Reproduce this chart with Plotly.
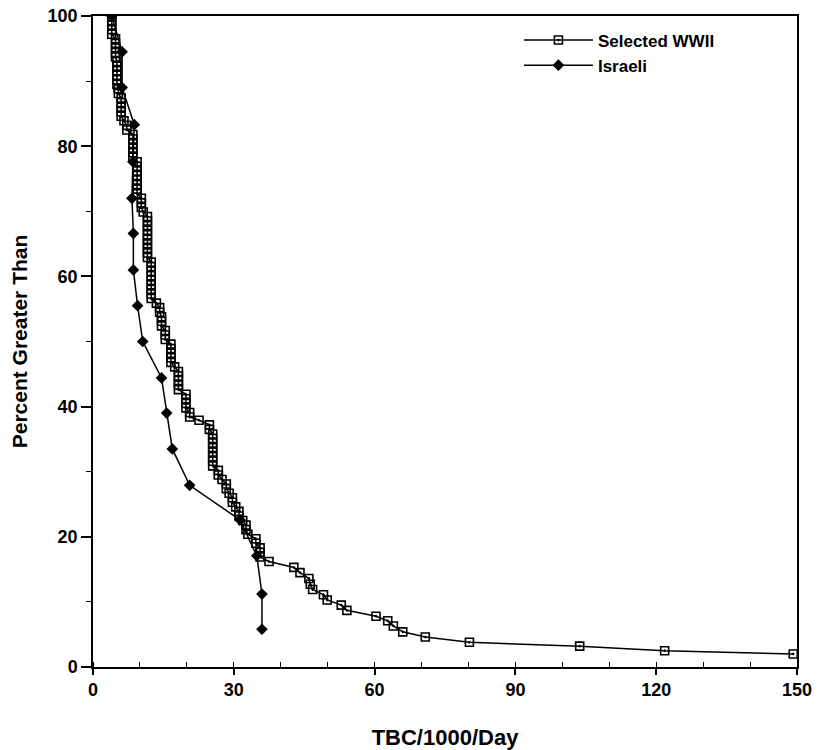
import plotly.graph_objects as go

# Selected WWII data (TBC/1000/Day, Percent Greater Than)
wwii_x = [4.0, 4.0, 4.0, 4.0, 4.0,
          4.8, 4.8, 4.8, 4.8, 4.8,
          5.1, 5.1, 5.1, 5.1, 5.1, 5.1,
          5.4, 5.4,
          6.0, 6.0, 6.0, 6.0, 6.0,
          6.6,
          7.2, 7.2,
          8.5, 8.5, 8.5, 8.5, 8.5, 8.5,
          9.4, 9.4, 9.4, 9.4, 9.4, 9.4, 9.4, 9.4,
          10.3, 10.3, 10.3,
          10.7,
          11.6, 11.6, 11.6, 11.6, 11.6, 11.6, 11.6, 11.6, 11.6, 11.6,
          12.4, 12.4, 12.4, 12.4, 12.4, 12.4, 12.4, 12.4, 12.4,
          13.5,
          14.2, 14.2,
          14.6, 14.6, 14.6,
          15.4, 15.4, 15.4,
          16.6, 16.6, 16.6, 16.6, 16.6,
          17.4,
          18.2, 18.2, 18.2, 18.2, 18.2,
          19.8, 19.8, 19.8, 19.8,
          20.6, 20.6,
          22.6,
          24.8, 24.8,
          25.5, 25.5, 25.5, 25.5, 25.5, 25.5, 25.5, 25.5,
          26.7, 26.7,
          27.5,
          28.4, 28.4,
          29.0,
          29.7, 29.7,
          30.4,
          31.1, 31.1,
          31.9,
          32.6, 32.6,
          33.0,
          34.7, 34.7,
          35.6, 35.6, 35.6,
          37.5,
          42.8, 44.1, 46.0, 46.3, 46.8, 49.1, 49.9, 52.9, 54.1,
          60.3, 62.8, 64.0, 66.0, 70.8, 80.2, 103.7, 121.8, 149.2]
wwii_y = [100.0, 99.3, 98.6, 97.9, 97.2,
          96.5, 95.8, 95.1, 94.4, 93.7,
          93.0, 92.3, 91.6, 90.9, 90.2, 89.5,
          88.8, 88.1,
          87.4, 86.7, 86.0, 85.3, 84.6,
          83.9,
          83.2, 82.5,
          81.8, 81.1, 80.4, 79.7, 79.0, 78.3,
          77.6, 76.9, 76.2, 75.5, 74.8, 74.1, 73.4, 72.7,
          72.0, 71.3, 70.6,
          69.9,
          69.2, 68.5, 67.8, 67.1, 66.4, 65.7, 65.0, 64.3, 63.6, 62.9,
          62.2, 61.5, 60.8, 60.1, 59.4, 58.7, 58.0, 57.3, 56.6,
          55.9,
          55.2, 54.5,
          53.8, 53.1, 52.4,
          51.7, 51.0, 50.3,
          49.6, 48.9, 48.2, 47.5, 46.8,
          46.1,
          45.4, 44.7, 44.0, 43.3, 42.6,
          41.9, 41.2, 40.5, 39.8,
          39.1, 38.4,
          37.9,
          37.2, 36.5,
          35.8, 35.1, 34.4, 33.7, 33.0, 32.3, 31.6, 30.9,
          30.2, 29.5,
          28.8,
          28.1, 27.4,
          26.7,
          26.0, 25.3,
          24.6,
          23.9, 23.2,
          22.5,
          21.8, 21.1,
          20.4,
          19.7, 19.0,
          18.3, 17.6, 16.9,
          16.2,
          15.3, 14.5, 13.6, 12.7, 11.9, 11.1, 10.3, 9.5, 8.7,
          7.8, 7.1, 6.3, 5.4, 4.6, 3.8, 3.2, 2.5, 2.0]

# Israeli data
isr_x = [4.0, 6.2, 6.2, 8.8, 8.5, 8.3, 8.6, 8.6, 9.5, 10.6, 14.6, 15.7, 16.9, 20.6, 31.3, 34.9, 36.0, 36.0]
isr_y = [100.0, 94.5, 89.0, 83.3, 77.6, 72.0, 66.6, 61.0, 55.5, 50.0, 44.4, 39.0, 33.5, 27.9, 22.6, 17.1, 11.2, 5.8]

x_ticks = [0, 30, 60, 90, 120, 150]
y_ticks = [0, 20, 40, 60, 80, 100]

FONT = "Liberation Sans"

fig = go.Figure()
fig.add_trace(go.Scatter(
    x=wwii_x, y=wwii_y, mode="lines+markers", name="Selected WWII",
    line=dict(color="black", width=1.5),
    marker=dict(symbol="square-open-dot", size=8, color="black", line=dict(width=1.6)),
))
fig.add_trace(go.Scatter(
    x=isr_x, y=isr_y, mode="lines+markers", name="Israeli",
    line=dict(color="black", width=1.5),
    marker=dict(symbol="diamond", size=9, color="black"),
))

fig.update_layout(
    width=822, height=750,
    margin=dict(l=93, r=25, t=16, b=83),
    paper_bgcolor="white", plot_bgcolor="white",
    font=dict(family=FONT, color="black"),
    showlegend=True,
    legend=dict(x=0.605, y=0.99, xanchor="left", yanchor="top",
                bgcolor="rgba(0,0,0,0)",
                font=dict(family=FONT, size=17, color="black", weight="bold"),
                itemwidth=69, tracegroupgap=0),
    xaxis=dict(
        range=[0, 150], tickvals=x_ticks, ticktext=[str(v) for v in x_ticks],
        automargin=False,
        showgrid=False, zeroline=False, showline=True, linecolor="black", linewidth=1.5,
        mirror=True, ticks="outside", ticklen=6, tickcolor="black", tickwidth=1.5,
        minor=dict(dtick=10, tick0=0, ticks="inside", ticklen=5, tickcolor="black", tickwidth=1.2),
        tickfont=dict(family=FONT, size=18, color="black", weight="bold"),
        title=dict(text="TBC/1000/Day", standoff=30,
                   font=dict(family=FONT, size=22, color="black", weight="bold")),
    ),
    yaxis=dict(
        range=[0, 100], tickvals=y_ticks, ticktext=[str(v) for v in y_ticks],
        automargin=False,
        showgrid=False, zeroline=False, showline=True, linecolor="black", linewidth=1.5,
        mirror=True, ticks="outside", ticklen=10, tickcolor="black", tickwidth=1.5,
        minor=dict(dtick=10, tick0=0, ticks="outside", ticklen=5, tickcolor="black", tickwidth=1.2),
        tickfont=dict(family=FONT, size=18, color="black", weight="bold"),
        title=dict(text="Percent Greater Than", standoff=14,
                   font=dict(family=FONT, size=21, color="black", weight="bold")),
    ),
)

fig.write_html("out.html")
